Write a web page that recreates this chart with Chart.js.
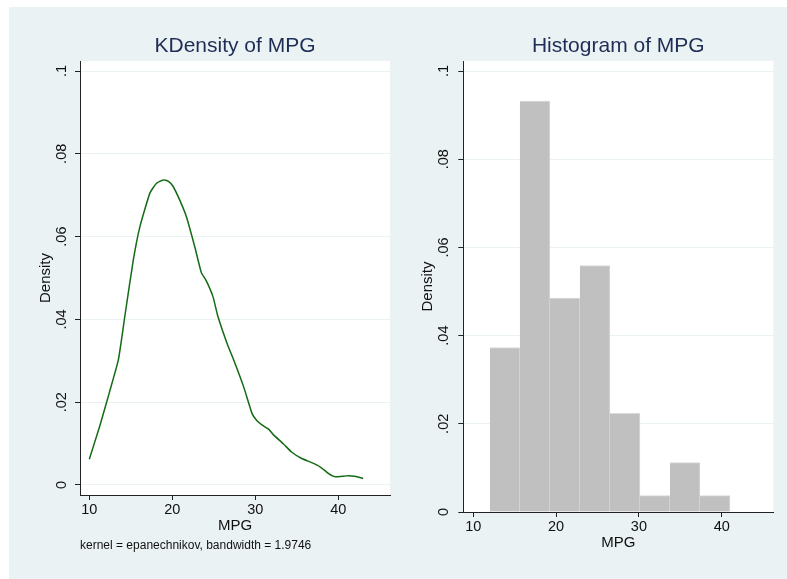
<!DOCTYPE html>
<html>
<head>
<meta charset="utf-8">
<script src="https://cdn.jsdelivr.net/npm/chart.js@4.4.0/dist/chart.umd.min.js"></script>
<style>
  html, body { margin: 0; padding: 0; background: #fff; }
  body { width: 787px; height: 579px; position: relative; overflow: hidden; }
  #panel { position: absolute; left: 9px; top: 7px; width: 778px; height: 572px; background: #eaf2f3; }
  .box { position: absolute; top: 7px; height: 572px; }
  #kdBox { left: 9px; width: 391px; }
  #histBox { left: 400px; width: 387px; }
</style>
</head>
<body>
<div id="panel"></div>
<div class="box" id="kdBox"><canvas id="kdChart"></canvas></div>
<div class="box" id="histBox"><canvas id="histChart"></canvas></div>
<script>
// ── Axis ticks ──
const yTicks = [0, 0.02, 0.04, 0.06, 0.08, 0.1];
const xTicks = [10, 20, 30, 40];

// ── Kernel density curve ──
const kdMpg = [10, 11.3, 12.4, 13.5, 14.3, 15.3, 16.1, 17.3, 18.1, 18.9, 19.5, 20.1, 20.9, 21.7, 22.7,
  23.5, 24.1, 24.9, 25.5, 26.6, 27.4, 28.6, 29.6, 30.2, 30.8, 31.6, 32.2, 33.4, 34.4, 35.6,
  36.8, 37.8, 38.8, 39.6, 41.0, 42.0, 43.0];
const kdDensity = [0.0062, 0.0145, 0.0222, 0.0302, 0.0410, 0.0543, 0.0624, 0.0705, 0.0729, 0.0737, 0.0734, 0.0721, 0.0688, 0.0648, 0.0576,
  0.0513, 0.0493, 0.0455, 0.0407, 0.0342, 0.0302, 0.0237, 0.0173, 0.0155, 0.0145, 0.0135, 0.0121, 0.0099, 0.0079, 0.0064,
  0.0054, 0.0044, 0.0028, 0.0020, 0.0022, 0.0021, 0.0016];

// ── Histogram bins ──
const binEdges = [12, 15.625, 19.25, 22.875, 26.5, 30.125, 33.75, 37.375, 41];
const histDensity = [0.0373, 0.0932, 0.0485, 0.0559, 0.0224, 0.0037, 0.0112, 0.0037];

const axisColor = '#222';
const textColor = '#111';
const gridColor = '#eaf2f3';

Chart.defaults.font.family = "'Liberation Sans', Arial, sans-serif";
Chart.defaults.animation = false;
Chart.defaults.responsive = true;
Chart.defaults.maintainAspectRatio = false;
Chart.defaults.plugins.legend.display = false;
Chart.defaults.plugins.tooltip.enabled = false;

// white plot region
const plotBackground = {
  id: 'plotBackground',
  beforeDraw(chart) {
    const { ctx, chartArea: a } = chart;
    ctx.save();
    ctx.fillStyle = '#fff';
    ctx.fillRect(a.left, a.top, a.right - a.left, a.bottom - a.top);
    ctx.restore();
  }
};

const fmtDensity = v => (v === 0 ? '0' : String(v).replace(/^0/, ''));

function yAxis(min, max, width, labelPad, titlePad) {
  return {
    type: 'linear',
    min, max,
    afterBuildTicks: s => { s.ticks = yTicks.map(v => ({ value: v })); },
    afterFit: s => { s.width = width; },
    ticks: {
      minRotation: 90, maxRotation: 90, crossAlign: 'center',
      padding: labelPad, color: textColor, font: { size: 14.5 },
      callback: fmtDensity,
    },
    grid: { color: gridColor, lineWidth: 1, tickColor: axisColor, tickLength: 5 },
    border: { display: true, color: axisColor, width: 1 },
    title: { display: true, text: 'Density', color: textColor, font: { size: 15 }, padding: { top: titlePad, bottom: 0 } },
  };
}

function xAxis(min, max) {
  return {
    type: 'linear',
    min, max,
    offset: false,
    afterBuildTicks: s => { s.ticks = xTicks.map(v => ({ value: v })); },
    afterFit: s => { s.height = 39.8; },
    ticks: { padding: 1, color: textColor, font: { size: 14.5 }, maxRotation: 0, autoSkip: false },
    grid: { offset: false, drawOnChartArea: false, tickColor: axisColor, tickLength: 5 },
    border: { display: true, color: axisColor, width: 1 },
    title: { display: true, text: 'MPG', color: textColor, font: { size: 15 }, padding: { top: 0, bottom: 0 } },
  };
}

function titleOpts(text) {
  return {
    display: true, text, color: '#1e2d55', fullSize: false,
    font: { size: 21, weight: 'normal' }, padding: { top: 0, bottom: 2.4 },
  };
}

// ── KDensity ──
new Chart(document.getElementById('kdChart'), {
  type: 'line',
  data: {
    datasets: [{
      data: kdMpg.map((x, i) => ({ x, y: kdDensity[i] })),
      borderColor: '#136b13',
      borderWidth: 1.5,
      pointRadius: 0,
      tension: 0.15,
      fill: false,
    }]
  },
  options: {
    layout: { padding: { top: 26.4, bottom: 26, left: 0, right: 10 } },
    scales: {
      x: xAxis(8.88, 46.23),
      y: yAxis(-0.00242, 0.10242, 71, 3, 27.5),
    },
    plugins: {
      title: titleOpts('KDensity of MPG'),
      subtitle: {
        display: true, position: 'bottom', align: 'start', fullSize: false,
        text: 'kernel = epanechnikov, bandwidth = 1.9746',
        color: textColor, font: { size: 12 }, padding: { top: 3.8, bottom: 0 },
      },
    }
  },
  plugins: [plotBackground]
});

// ── Histogram ──
const binCenters = histDensity.map((_, i) => (binEdges[i] + binEdges[i + 1]) / 2);

new Chart(document.getElementById('histChart'), {
  type: 'bar',
  data: {
    datasets: [{
      data: binCenters.map((x, i) => ({ x, y: histDensity[i] })),
      backgroundColor: '#c0c0c0',
      borderColor: '#dadada',
      borderWidth: { top: 1, right: 1, left: 0, bottom: 0 },
      borderSkipped: false,
      barPercentage: 1,
      categoryPercentage: 1,
    }]
  },
  options: {
    layout: { padding: { top: 26.4, bottom: 27.2, left: 0, right: 13.7 } },
    scales: {
      x: xAxis(8.79, 46.23),
      y: yAxis(0, 0.10227, 63.3, 4, 19),
    },
    plugins: {
      title: titleOpts('Histogram of MPG'),
    }
  },
  plugins: [plotBackground]
});
</script>
</body>
</html>
